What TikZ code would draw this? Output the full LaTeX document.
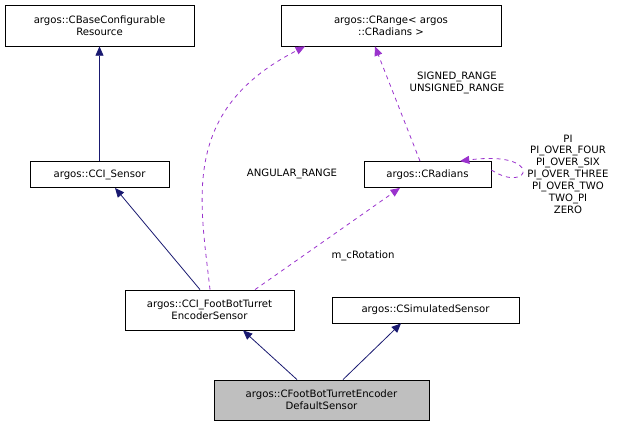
\documentclass[tikz,border=0pt]{standalone}
\usepackage{fontspec}
\setmainfont{DejaVu Sans}
\usetikzlibrary{arrows.meta}
\begin{document}
\begin{tikzpicture}[x=0.75pt,y=-0.75pt,
  box/.style={draw=black,line width=0.6pt,inner sep=0pt,align=center,font=\fontsize{7.6}{8.9}\selectfont},
  inh/.style={color={rgb,255:red,25;green,25;blue,112},line width=0.6pt,-{Triangle[length=7pt,width=6pt]}},
  use/.style={color={rgb,255:red,154;green,50;blue,205},dashed,line width=0.6pt,-{Triangle[length=7pt,width=6pt]}},
  lbl/.style={font=\fontsize{7.6}{8.9}\selectfont,align=center}]
\useasboundingbox (0,0) rectangle (626,427);
\node[box,minimum width=141.75pt,minimum height=30.75pt] (base) at (99.5,25.5) {argos::CBaseConfigurable\\Resource};
\node[box,minimum width=165pt,minimum height=30.75pt] (range) at (391,25.5) {argos::CRange< argos\\::CRadians >};
\node[box,minimum width=104.25pt,minimum height=19.5pt] (sensor) at (99.5,174.5) {argos::CCI\_Sensor};
\node[box,minimum width=95.25pt,minimum height=19.5pt] (rad) at (427.5,174.5) {argos::CRadians};
\node[box,minimum width=126.75pt,minimum height=30pt] (fb) at (209.5,310) {argos::CCI\_FootBotTurret\\EncoderSensor};
\node[box,minimum width=140.25pt,minimum height=19.5pt] (sim) at (425.5,310) {argos::CSimulatedSensor};
\node[box,fill={rgb,255:red,191;green,191;blue,191},minimum width=161.25pt,minimum height=30pt] (def) at (321.5,400) {argos::CFootBotTurretEncoder\\DefaultSensor};
\draw[inh] (sensor.north -| base.south) -- (base.south);
\draw[inh] (fb.north -| 200,0) -- (sensor.south -| 115,0);
\draw[inh] (def.north -| 297,0) -- (fb.south -| 243,0);
\draw[inh] (def.north -| 343,0) -- (sim.south -| 401,0);
\draw[use] (fb.north -| 210,0) .. controls (200,200) and (180,110) .. (range.south -| 305,0);
\node[lbl] (l1) at (292,174) {ANGULAR\_RANGE};
\draw[use] (fb.north -| 255,0) -- (rad.south -| 400,0);
\node[lbl] (l2) at (363,256) {m\_cRotation};
\draw[use] (rad.north -| 420,0) -- (range.south -| 375,0);
\node[lbl] (l3) at (457,83) {SIGNED\_RANGE\\UNSIGNED\_RANGE};
\draw[use] (rad.east |- 0,170) .. controls (530,195) and (545,150) .. (rad.north -| 460,0);
\node[lbl] (l4) at (568,174) {PI\\PI\_OVER\_FOUR\\PI\_OVER\_SIX\\PI\_OVER\_THREE\\PI\_OVER\_TWO\\TWO\_PI\\ZERO};
\end{tikzpicture}
\end{document}
